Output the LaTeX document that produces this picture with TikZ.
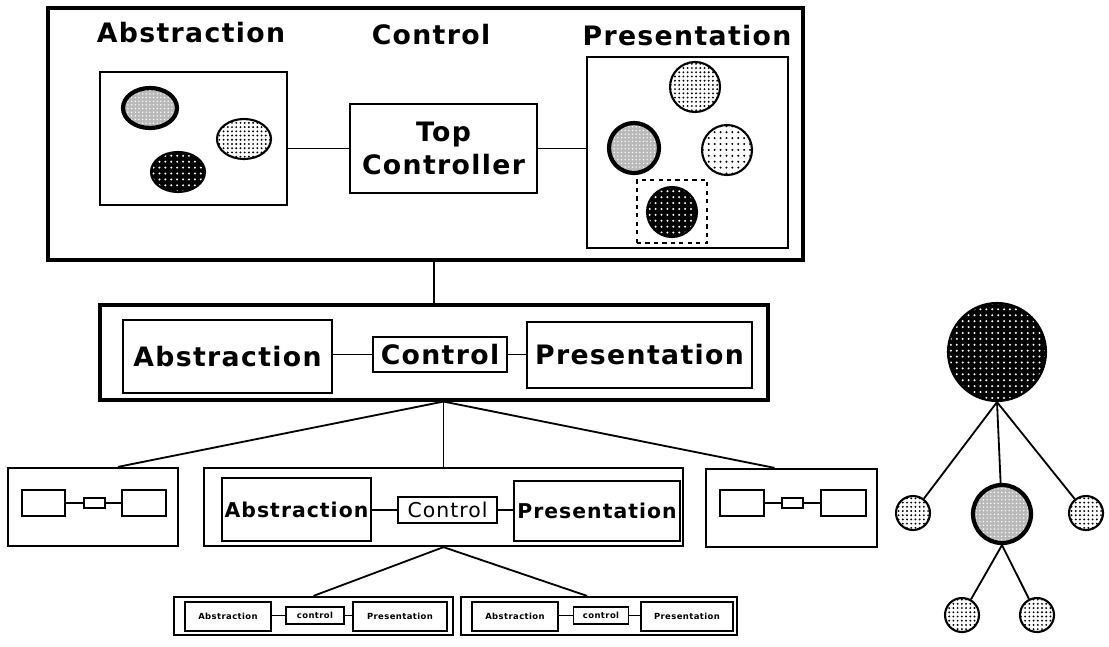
\documentclass[tikz,border=0pt]{standalone}
\usepackage{fontspec}
\setmainfont{DejaVu Sans}
\newfontfamily\macfont[LetterSpace=5]{DejaVu Sans}
\usetikzlibrary{patterns,patterns.meta,shapes.geometric,calc}

\begin{document}
\begin{tikzpicture}[x=0.025cm, y=-0.025cm, line width=1.3pt,
    wh/.style 2 args={minimum width=#1*0.025cm, minimum height=#2*0.025cm},
    frame/.style={draw, line width=2.2pt, inner sep=0pt},
    part/.style={draw, line width=1.2pt, inner sep=0pt},
    bigtext/.style={font=\macfont\bfseries\fontsize{19}{23}\selectfont},
    midtext/.style={font=\macfont\bfseries\fontsize{14.5}{17}\selectfont},
    tinytext/.style={font=\macfont\bfseries\fontsize{6}{7}\selectfont},
    blob/.style={ellipse, draw, line width=1.5pt, inner sep=0pt, minimum width=54*0.025cm, minimum height=40*0.025cm},
    disc/.style={circle, draw, line width=1.5pt, inner sep=0pt, minimum size=#1*0.025cm},
    graycell/.style={line width=3pt, preaction={fill=gray!55}, pattern={Dots[distance=2.6pt, radius=0.55pt]}, pattern color=white},
    lightcell/.style={pattern={Dots[distance=3pt, radius=0.75pt]}},
    sparsecell/.style={pattern={Dots[distance=4.2pt, radius=0.8pt]}},
    darkcell/.style={preaction={fill=black}, pattern={Dots[distance=4.2pt, radius=0.8pt]}, pattern color=white}]
  \useasboundingbox (0,0) rectangle (1109,646);

  % Top level
  \node[frame, wh={755}{252}] (topbox) at (425.5,134) {};
  \node[bigtext] (tabs) at (191,33) {Abstraction};
  \node[bigtext] (tctl) at (431,35) {Control};
  \node[bigtext] (tpres) at (687,36) {Presentation};

  \node[part, wh={187}{133}] (absbox) at (193.5,138.5) {};
  \node[blob, graycell] (obj1) at (150,108) {};
  \node[blob, lightcell] (obj2) at (244,139) {};
  \node[blob, darkcell] (obj3) at (178,172) {};

  \node[part, wh={187}{89}, bigtext, align=center] (topctrl) at (443.5,148.5) {Top\\Controller};

  \node[part, wh={201}{191}] (presbox) at (687.5,152.5) {};
  \node[disc=50, lightcell] (view1) at (695,87) {};
  \node[disc=50, graycell] (view2) at (634,148) {};
  \node[disc=50, sparsecell] (view3) at (727,150) {};
  \node[draw, dashed, line width=1.2pt, wh={70}{63}] (pick) at (672,211.5) {};
  \node[disc=50, darkcell] (view4) at (672,212) {};

  % Middle level
  \node[frame, wh={668}{95}] (midbox) at (434,352.5) {};
  \node[part, wh={209}{73}, bigtext] (midabs) at (227.5,356.5) {Abstraction};
  \node[part, wh={134}{35}, bigtext] (midctrl) at (440,354.5) {Control};
  \node[part, wh={225}{66}, bigtext] (midpres) at (639.5,355) {Presentation};

  % Lower level
  \node[frame, line width=1.6pt, wh={170}{78}] (leftbox) at (93,507) {};
  \node[part, wh={43}{26}] (la) at (43.5,503) {};
  \node[part, wh={21}{10}] (lc) at (94.5,503) {};
  \node[part, wh={44}{26}] (lp) at (144,503) {};

  \node[frame, line width=1.6pt, wh={479}{78}] (lowmid) at (443.5,507) {};
  \node[part, wh={149}{63}, midtext] (lowabs) at (296.5,509.5) {Abstraction};
  \node[part, wh={99}{26}, midtext, font=\macfont\fontsize{14.5}{17}\selectfont] (lowctrl) at (447.5,510) {Control};
  \node[part, wh={166}{60}, midtext] (lowpres) at (597,511) {Presentation};

  \node[frame, line width=1.6pt, wh={171}{78}] (rightbox) at (791.5,508) {};
  \node[part, wh={44}{26}] (ra) at (742,503) {};
  \node[part, wh={21}{10}] (rc) at (792.5,503) {};
  \node[part, wh={45}{26}] (rp) at (843.5,503) {};

  % Bottom level
  \node[frame, line width=1.6pt, wh={279}{38}] (botone) at (313.5,616) {};
  \node[part, wh={86}{29}, tinytext] (ba1) at (228,616.5) {Abstraction};
  \node[part, wh={58}{17}, tinytext] (bc1) at (315,615.5) {control};
  \node[part, wh={94}{29}, tinytext] (bp1) at (400,616.5) {Presentation};

  \node[frame, line width=1.6pt, wh={276}{38}] (bottwo) at (599,616) {};
  \node[part, wh={86}{29}, tinytext] (ba2) at (515,616.5) {Abstraction};
  \node[part, wh={55}{17}, tinytext] (bc2) at (601,615.5) {control};
  \node[part, wh={92}{29}, tinytext] (bp2) at (687,616.5) {Presentation};

  % Tree
  \node[disc=98, darkcell] (root) at (997,352) {};
  \node[disc=34, lightcell] (kidl) at (913,513) {};
  \node[disc=58, graycell] (kidm) at (1002,514) {};
  \node[disc=34, lightcell] (kidr) at (1086,513) {};
  \node[disc=34, lightcell] (leafl) at (962,615) {};
  \node[disc=34, lightcell] (leafr) at (1037,615) {};

  % Edges
  \draw (absbox.east |- topctrl.west) -- (topctrl.west);
  \draw (topctrl.east) -- (topctrl.east -| presbox.west);
  \draw (midbox.north) -- (midbox.north |- topbox.south);

  \draw (midabs.east |- midctrl.west) -- (midctrl.west);
  \draw (midctrl.east) -- (midctrl.east -| midpres.west);

  \draw (la) -- (lc);
  \draw (lc) -- (lp);
  \draw (ra) -- (rc);
  \draw (rc) -- (rp);

  \draw (lowabs.east |- lowctrl.west) -- (lowctrl.west);
  \draw (lowctrl.east) -- (lowctrl.east -| lowpres.west);

  \draw (ba1.east |- bc1.west) -- (bc1.west);
  \draw (bc1.east) -- (bc1.east -| bp1.west);
  \draw (ba2.east |- bc2.west) -- (bc2.west);
  \draw (bc2.east) -- (bc2.east -| bp2.west);

  \draw (midbox.south -| lowmid.north) -- (lowmid.north);
  \draw (midbox.south -| lowmid.north) -- ($(leftbox.north)+(25,0)$);
  \draw (midbox.south -| lowmid.north) -- ($(rightbox.north)+(-17,0)$);

  \draw (lowmid.south) -- (botone.north);
  \draw (lowmid.south) -- ($(bottwo.north)+(-12,0)$);

  \draw (root.south) -- (kidl);
  \draw (root.south) -- (kidm);
  \draw (root.south) -- (kidr);
  \draw (kidm.south) -- (leafl);
  \draw (kidm.south) -- (leafr);
\end{tikzpicture}
\end{document}
